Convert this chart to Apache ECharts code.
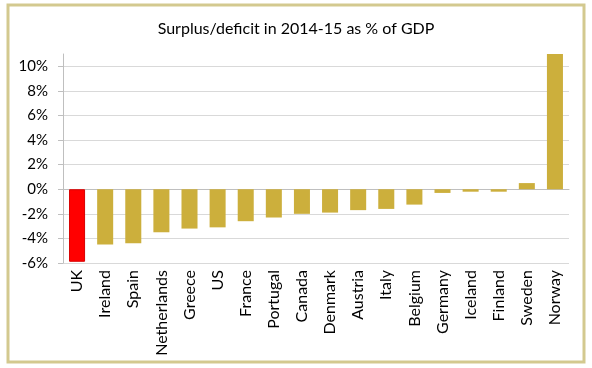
<!DOCTYPE html>
<html><head><meta charset="utf-8">
<script src="https://cdn.jsdelivr.net/npm/echarts@6/dist/echarts.min.js"></script>
<style>html,body{margin:0;padding:0;background:#fff}#c{width:592px;height:368px}</style>
</head><body><div id="c"></div>
<script>
const categories = ["UK","Ireland","Spain","Netherlands","Greece","US","France","Portugal","Canada","Denmark","Austria","Italy","Belgium","Germany","Iceland","Finland","Sweden","Norway"];
const values = [-5.9,-4.5,-4.4,-3.5,-3.2,-3.1,-2.6,-2.3,-2.0,-1.9,-1.7,-1.6,-1.25,-0.3,-0.2,-0.2,0.5,11.0];
const highlight = "UK";
const yTicks = [-6,-4,-2,0,2,4,6,8,10];

const chart = echarts.init(document.getElementById('c'), null, {renderer:'canvas'});
const font = "Lato, 'Open Sans', sans-serif";
chart.setOption({
  animation:false,
  title:{text:"Surplus/deficit in 2014-15 as % of GDP", left:'center', top:16,
    textStyle:{fontFamily:font, fontSize:16, fontWeight:'normal', color:'#000'}},
  graphic:[{type:'rect', shape:{x:8,y:5,width:576,height:357},
    style:{fill:'none', stroke:'#D3C98F', lineWidth:3}, silent:true}],
  grid:{left:63, right:23, top:54, bottom:105},
  xAxis:{type:'category', data:categories,
    axisLine:{onZero:true, lineStyle:{color:'#BFBFBF', width:1}},
    axisTick:{show:false},
    axisLabel:{rotate:90, fontFamily:font, fontSize:16, color:'#000', margin:7, interval:0}},
  yAxis:{type:'value', min:-6, max:11, interval:2,
    axisLine:{show:true, lineStyle:{color:'#BFBFBF'}},
    axisTick:{show:true, length:5, lineStyle:{color:'#BFBFBF'}},
    axisLabel:{fontFamily:font, fontSize:15, color:'#000', margin:15, showMaxLabel:false,
      formatter:v=> yTicks.indexOf(v)>=0 ? v+'%' : ''},
    splitLine:{show:true, showMaxLine:false, lineStyle:{color:'#D9D9D9'}}},
  series:[{type:'bar', barWidth:'57%',
    data: values.map((v,i)=>({value:v, itemStyle: categories[i]===highlight
      ? {color:'#FF0000', borderColor:'#D80000', borderWidth:1}
      : {color:'#CCAF3C'}}))}]
});
</script></body></html>
